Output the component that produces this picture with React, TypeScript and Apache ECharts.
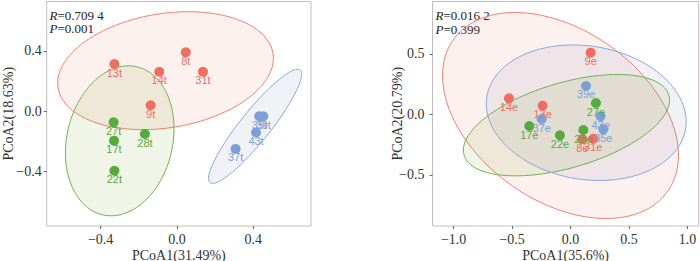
import React, { useEffect, useRef } from "react";
import * as echarts from "echarts";

// ---------- data ----------
const groupColors = ["#EE6F5F", "#56AB3E", "#7C9FD6"];
const ellipseFills = ["rgba(240,120,105,0.10)", "rgba(120,160,40,0.11)", "rgba(120,130,170,0.10)"];
const ellipseStrokes = ["#F08272", "#6DB54E", "#8AA8DC"];

// Left panel (t)
const leftRedNames = ["8t", "9t", "13t", "14t", "31t"];
const leftRedX = [0.046, -0.138, -0.328, -0.093, 0.136];
const leftRedY = [0.39, 0.038, 0.312, 0.261, 0.261];
const leftGreenNames = ["17t", "22t", "27t", "28t"];
const leftGreenX = [-0.33, -0.328, -0.332, -0.168];
const leftGreenY = [-0.197, -0.397, -0.075, -0.153];
const leftBlueNames = ["35t", "37t", "39t", "43t"];
const leftBlueX = [0.431, 0.307, 0.452, 0.414];
const leftBlueY = [-0.035, -0.252, -0.035, -0.142];

// Right panel (e)
const rightRedNames = ["8e", "9e", "13e", "14e", "31e"];
const rightRedX = [0.1, 0.172, -0.239, -0.527, 0.194];
const rightRedY = [-0.207, 0.509, 0.071, 0.132, -0.202];
const rightGreenNames = ["17e", "22e", "27e", "28e"];
const rightGreenX = [-0.353, -0.091, 0.217, 0.109];
const rightGreenY = [-0.097, -0.174, 0.093, -0.13];
const rightBlueNames = ["35e", "37e", "39e", "43e"];
const rightBlueX = [0.28, -0.247, 0.132, 0.257];
const rightBlueY = [-0.124, -0.039, 0.234, -0.017];

// Ellipses (center, conjugate semi-axis vectors), order: red, green, blue
const leftEllipseCenters = [[-0.06, 0.268], [-0.3, -0.198], [0.409, -0.102]];
const leftEllipseU = [[0.565, 0.0824], [0.0896, 0.492], [0.236, 0.374]];
const leftEllipseV = [[0, -0.383], [0.27, -0.079], [0.0613, -0.0625]];
const rightEllipseCenters = [[-0.086, -0.01], [-0.035, -0.09], [0.134, 0.013]];
const rightEllipseU = [[1.009, -0.329], [0.882, 0.207], [0.855, -0.074]];
const rightEllipseV = [[0, 0.785], [0, 0.364], [0, 0.555]];

// Axes
const leftXTicks = [-0.4, 0, 0.4];
const leftYTicks = [-0.4, 0, 0.4];
const rightXTicks = [-1, -0.5, 0, 0.5, 1];
const rightYTicks = [-0.5, 0, 0.5];
const leftXRange = [-0.6826, 0.702];
const leftYRange = [-0.764, 0.7276];
const rightXRange = [-1.181, 1.096];
const rightYRange = [-0.923, 0.932];
const axisTitles = ["PCoA1(31.49%)", "PCoA2(18.63%)", "PCoA1(35.6%)", "PCoA2(20.79%)"];
const statsLeft = ["0.709 4", "0.001"];
const statsRight = ["0.016 2", "0.399"];

const SERIF = "Liberation Serif";
const SANS = "Liberation Sans";

const fmt = (v: number) => v.toFixed(1).replace("-", "\u2212");

function zip(names: string[], xs: number[], ys: number[]) {
  return names.map((n, i) => [xs[i], ys[i], n]);
}

function scatter(idx: number, data: any[], color: string) {
  return {
    type: "scatter",
    xAxisIndex: idx,
    yAxisIndex: idx,
    data,
    symbolSize: 10,
    z: 3,
    itemStyle: { color, opacity: 1 },
    label: {
      show: true,
      position: "bottom",
      distance: -2,
      formatter: (p: any) => p.data[2],
      color,
      fontSize: 11,
      fontFamily: SANS,
    },
  };
}

function ellipses(idx: number, centers: number[][], U: number[][], V: number[][]) {
  return {
    type: "custom",
    xAxisIndex: idx,
    yAxisIndex: idx,
    z: 1,
    data: centers,
    encode: { x: 0, y: 1 },
    renderItem: (params: any, api: any) => {
      const i = params.dataIndex;
      const c = centers[i];
      const u = U[i];
      const v = V[i];
      const pts: number[][] = [];
      const N = 120;
      for (let k = 0; k < N; k++) {
        const t = (2 * Math.PI * k) / N;
        const ct = Math.cos(t);
        const st = Math.sin(t);
        pts.push(api.coord([c[0] + u[0] * ct + v[0] * st, c[1] + u[1] * ct + v[1] * st]));
      }
      return {
        type: "polygon",
        shape: { points: pts },
        style: { fill: ellipseFills[i], stroke: ellipseStrokes[i], lineWidth: 1 },
      };
    },
  };
}

function xAxis(idx: number, range: number[], ticks: number[], name: string) {
  return {
    gridIndex: idx,
    type: "value",
    position: "bottom",
    min: range[0],
    max: range[1],
    axisLine: { show: false, onZero: false },
    splitLine: { show: false },
    axisTick: { show: true, length: 3, customValues: ticks, lineStyle: { color: "#666" } },
    axisLabel: { customValues: ticks, formatter: fmt, margin: 6, fontFamily: SERIF, fontSize: 14, color: "#333" },
    name,
    nameLocation: "middle",
    nameGap: 22,
    nameMoveOverlap: false,
    nameTextStyle: { fontFamily: SERIF, fontSize: 14, color: "#333" },
  };
}

function yAxis(idx: number, range: number[], ticks: number[], name: string, margin: number, gap: number) {
  return {
    gridIndex: idx,
    type: "value",
    position: "left",
    min: range[0],
    max: range[1],
    axisLine: { show: false, onZero: false },
    splitLine: { show: false },
    axisTick: { show: true, length: 3, customValues: ticks, lineStyle: { color: "#666" } },
    axisLabel: { customValues: ticks, formatter: fmt, margin, fontFamily: SERIF, fontSize: 14, color: "#333" },
    name,
    nameLocation: "middle",
    nameRotate: 90,
    nameGap: gap,
    nameMoveOverlap: false,
    nameTextStyle: { fontFamily: SERIF, fontSize: 14, color: "#333" },
  };
}

function statText(x: number, y: number, letter: string, value: string) {
  return {
    type: "text",
    x,
    y,
    style: {
      text: "{i|" + letter + "}{n|=" + value + "}",
      rich: {
        i: { fontStyle: "italic", fontFamily: SERIF, fontSize: 13, fill: "#222" },
        n: { fontFamily: SERIF, fontSize: 13, fill: "#222" },
      },
      fontFamily: SERIF,
      fontSize: 13,
      fill: "#222",
      verticalAlign: "middle",
    },
  };
}

export default function App() {
  const ref = useRef<HTMLDivElement>(null);
  useEffect(() => {
    if (!ref.current) return;
    const chart = echarts.init(ref.current, undefined, { renderer: "svg" });
    const gridBase = {
      show: true,
      borderColor: "#C4BCBC",
      borderWidth: 1,
      backgroundColor: "transparent",
      containLabel: false,
      outerBoundsMode: "none",
    };
    chart.setOption({
      animation: false,
      textStyle: { fontFamily: SERIF },
      grid: [
        { ...gridBase, left: 46.7, top: 1.5, width: 264.3, height: 224.5 },
        { ...gridBase, left: 432.5, top: 1.5, width: 266.2, height: 224.5 },
      ],
      xAxis: [
        xAxis(0, leftXRange, leftXTicks, axisTitles[0]),
        xAxis(1, rightXRange, rightXTicks, axisTitles[2]),
      ],
      yAxis: [
        yAxis(0, leftYRange, leftYTicks, axisTitles[1], 5, 31),
        yAxis(1, rightYRange, rightYTicks, axisTitles[3], 8, 28),
      ],
      series: [
        ellipses(0, leftEllipseCenters, leftEllipseU, leftEllipseV),
        ellipses(1, rightEllipseCenters, rightEllipseU, rightEllipseV),
        scatter(0, zip(leftRedNames, leftRedX, leftRedY), groupColors[0]),
        scatter(0, zip(leftGreenNames, leftGreenX, leftGreenY), groupColors[1]),
        scatter(0, zip(leftBlueNames, leftBlueX, leftBlueY), groupColors[2]),
        scatter(1, zip(rightRedNames, rightRedX, rightRedY), groupColors[0]),
        scatter(1, zip(rightGreenNames, rightGreenX, rightGreenY), groupColors[1]),
        scatter(1, zip(rightBlueNames, rightBlueX, rightBlueY), groupColors[2]),
      ],
      graphic: [
        statText(49.5, 15, "R", statsLeft[0]),
        statText(49.5, 28.5, "P", statsLeft[1]),
        statText(435.5, 15, "R", statsRight[0]),
        statText(435.5, 29, "P", statsRight[1]),
      ],
    });
    return () => chart.dispose();
  }, []);
  return (
    <div
      ref={ref}
      style={{ position: "fixed", left: 0, top: 0, width: 700, height: 261, background: "#fff" }}
    />
  );
}
